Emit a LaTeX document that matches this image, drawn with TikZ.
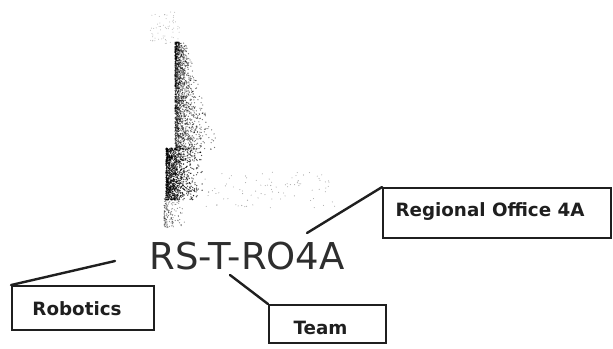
\documentclass[tikz,border=0pt]{standalone}
\usepackage{fontspec}
\setmainfont{DejaVu Sans}
\begin{document}
\begin{tikzpicture}[x=1pt,y=1pt,
  ink/.style={draw=black!88},
  labelbox/.style={ink, line width=1.9pt, rectangle, inner sep=0pt},
  leader/.style={ink, line width=2.4pt, line cap=round},
  boxtext/.style={font=\bfseries\fontsize{18.3}{21}\selectfont, text=black!88, inner sep=0pt},
  codetext/.style={font=\fontsize{37}{40}\selectfont, text=black!82, inner sep=0pt, anchor=base},
  speck/.style={fill=black, opacity=0.55}]
  \useasboundingbox (0,0) rectangle (613,348);
  \fill[white] (0,0) rectangle (613,348);

  % scanner smudge: stippled band, dense lower block, faint scatter to the right
  \pgfmathsetseed{42}
  \foreach \i in {1,...,1600}{
    \pgfmathsetmacro\py{348-42-108*rnd}
    \pgfmathsetmacro\px{175+(8+24*(348-42-\py)/108)*rnd*rnd*1.4}
    \fill[speck] (\px,\py) circle (0.65);
  }
  \foreach \i in {1,...,1100}{
    \pgfmathsetmacro\py{348-148-52*rnd}
    \pgfmathsetmacro\px{166+38*rnd*rnd}
    \fill[speck, opacity=0.7] (\px,\py) circle (0.7);
  }
  \foreach \i in {1,...,160}{
    \pgfmathsetmacro\py{348-198-30*rnd}
    \pgfmathsetmacro\px{164+22*rnd*rnd}
    \fill[speck, opacity=0.45] (\px,\py) circle (0.6);
  }
  \foreach \i in {1,...,90}{
    \pgfmathsetmacro\py{348-172-36*rnd}
    \pgfmathsetmacro\px{205+135*rnd}
    \fill[speck, opacity=0.35] (\px,\py) circle (0.55);
  }
  \foreach \i in {1,...,60}{
    \pgfmathsetmacro\py{348-12-32*rnd}
    \pgfmathsetmacro\px{150+30*rnd}
    \fill[speck, opacity=0.3] (\px,\py) circle (0.5);
  }

  % identifier
  \node[codetext] (code) at (247,78) {RS-T-RO4A};

  % label boxes
  \node[labelbox, minimum width=142pt, minimum height=44pt] (rob) at (83,40) {};
  \node[labelbox, minimum width=117pt, minimum height=38pt] (team) at (327.5,24) {};
  \node[labelbox, minimum width=228pt, minimum height=50pt] (reg) at (497,135) {};

  \node[boxtext] (robtxt) at ([xshift=-6pt,yshift=-1pt]rob.center) {Robotics};
  \node[boxtext] (teamtxt) at ([xshift=-7pt,yshift=-4pt]team.center) {Team};
  \node[boxtext] (regtxt) at ([xshift=-7pt,yshift=1pt]reg.center) {Regional Office 4A};

  % leader lines from the identifier to each box
  \coordinate (robend) at (115,87);
  \coordinate (teamend) at (230,73);
  \coordinate (regend) at (307,115);
  \draw[leader] (rob.north west) -- (robend);
  \draw[leader] (team.north west) -- (teamend);
  \draw[leader] (reg.north west) -- (regend);
\end{tikzpicture}
\end{document}
